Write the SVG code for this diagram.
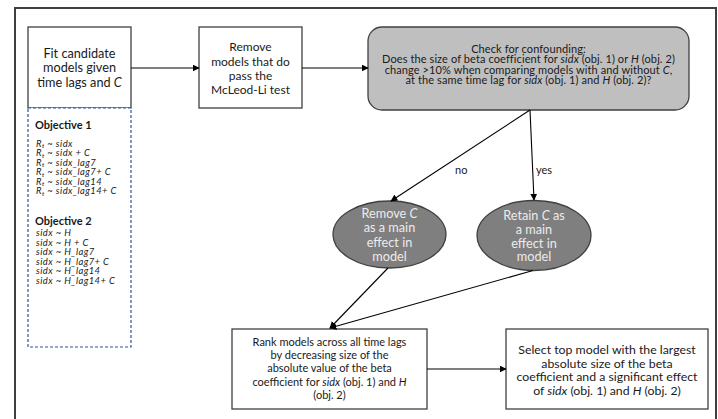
<svg xmlns="http://www.w3.org/2000/svg" width="718" height="419" viewBox="0 0 718 419">
<defs>
<style>
text{font-family:Lato,"Noto Sans","Liberation Sans",sans-serif;fill:#1a1a1a;}
.box{fill:#fff;stroke:#404040;stroke-width:1.3;}
.grey{fill:#bfbfbf;stroke:#404040;stroke-width:1.3;}
.ell{fill:#7f7f7f;stroke:#404040;stroke-width:1.3;}
.t12{font-size:12px;text-anchor:middle;}
.t13{font-size:12.7px;text-anchor:middle;}
.t11{font-size:11px;text-anchor:middle;}
.tsel{font-size:12.3px;text-anchor:middle;}
.tchk{font-size:11px;text-anchor:middle;letter-spacing:0.1px;}
.w{fill:#ececec;font-size:12.7px;text-anchor:middle;}
.lst{font-size:9.4px;font-style:italic;letter-spacing:0.45px;}
.hd{font-size:11px;font-weight:bold;}
.i{font-style:italic;}
.conn{stroke:#000;stroke-width:1.1;fill:none;marker-end:url(#ah);}
.lbl{font-size:11px;}
</style>
<marker id="ah" viewBox="0 0 10 10" refX="9" refY="5" markerWidth="7" markerHeight="7" markerUnits="userSpaceOnUse" orient="auto">
<path d="M0,0 L10,5 L0,10 z" fill="#000"/>
</marker>
</defs>
<rect x="15" y="8" width="701" height="420" fill="#fff" stroke="#404040" stroke-width="2"/>

<g id="fit">
<rect class="box" x="28" y="27" width="103" height="81"/>
<text class="t13" x="79.5" y="57.5">Fit candidate</text>
<text class="t13" x="79.5" y="72">models given</text>
<text class="t13" x="79.5" y="86.5">time lags and <tspan class="i">C</tspan></text>
</g>

<g id="objectives">
<rect x="28" y="108" width="103" height="239" fill="#fff" stroke="#2f5597" stroke-width="1.2" stroke-dasharray="3,2"/>
<text class="hd" x="35" y="129">Objective 1</text>
<text class="lst" x="36" y="146.5">R<tspan font-size="6.5" dy="1.5">t</tspan><tspan dy="-1.5"> ~ sidx</tspan></text>
<text class="lst" x="36" y="156">R<tspan font-size="6.5" dy="1.5">t</tspan><tspan dy="-1.5"> ~ sidx + C</tspan></text>
<text class="lst" x="36" y="165.5">R<tspan font-size="6.5" dy="1.5">t</tspan><tspan dy="-1.5"> ~ sidx_lag7</tspan></text>
<text class="lst" x="36" y="175">R<tspan font-size="6.5" dy="1.5">t</tspan><tspan dy="-1.5"> ~ sidx_lag7+ C</tspan></text>
<text class="lst" x="36" y="184.5">R<tspan font-size="6.5" dy="1.5">t</tspan><tspan dy="-1.5"> ~ sidx_lag14</tspan></text>
<text class="lst" x="36" y="194">R<tspan font-size="6.5" dy="1.5">t</tspan><tspan dy="-1.5"> ~ sidx_lag14+ C</tspan></text>
<text class="hd" x="35" y="225">Objective 2</text>
<text class="lst" x="36" y="236">sidx ~ H</text>
<text class="lst" x="36" y="245.5">sidx ~ H + C</text>
<text class="lst" x="36" y="255">sidx ~ H_lag7</text>
<text class="lst" x="36" y="264.5">sidx ~ H_lag7+ C</text>
<text class="lst" x="36" y="274">sidx ~ H_lag14</text>
<text class="lst" x="36" y="283.5">sidx ~ H_lag14+ C</text>
</g>

<g id="remove">
<rect class="box" x="199" y="27" width="103" height="81"/>
<text class="t12" x="250.5" y="51">Remove</text>
<text class="t12" x="250.5" y="65.5">models that do</text>
<text class="t12" x="250.5" y="80">pass the</text>
<text class="t12" x="250.5" y="94">McLeod-Li test</text>
</g>

<g id="check">
<rect class="grey" x="368" y="27" width="321" height="83" rx="14" ry="14"/>
<text class="tchk" x="528.5" y="52.5">Check for confounding:</text>
<text class="tchk" x="528.5" y="63">Does the size of beta coefficient for <tspan class="i">sidx</tspan> (obj. 1) or <tspan class="i">H</tspan> (obj. 2)</text>
<text class="tchk" x="528.5" y="73.5">change &gt;10% when comparing models with and without <tspan class="i">C</tspan>,</text>
<text class="tchk" x="528.5" y="84">at the same time lag for <tspan class="i">sidx</tspan> (obj. 1) and <tspan class="i">H</tspan> (obj. 2)?</text>
</g>

<g id="removeC">
<ellipse class="ell" cx="389.5" cy="234.5" rx="56.5" ry="33.5"/>
<text class="w" x="389.5" y="217.5">Remove <tspan class="i">C</tspan></text>
<text class="w" x="389.5" y="232">as a main</text>
<text class="w" x="389.5" y="246.5">effect in</text>
<text class="w" x="389.5" y="261">model</text>
</g>

<g id="retainC">
<ellipse class="ell" cx="534" cy="235.5" rx="57" ry="35"/>
<text class="w" x="534" y="219.5">Retain <tspan class="i">C</tspan> as</text>
<text class="w" x="534" y="233.5">a main</text>
<text class="w" x="534" y="247.5">effect in</text>
<text class="w" x="534" y="261">model</text>
</g>

<g id="rank">
<rect class="box" x="232" y="329" width="195" height="80"/>
<text class="t11" x="329.5" y="345.5">Rank models across all time lags</text>
<text class="t11" x="329.5" y="359">by decreasing size of the</text>
<text class="t11" x="329.5" y="372">absolute value of the beta</text>
<text class="t11" x="329.5" y="385.5">coefficient for <tspan class="i">sidx</tspan> (obj. 1) and <tspan class="i">H</tspan></text>
<text class="t11" x="329.5" y="399">(obj. 2)</text>
</g>

<g id="select">
<rect class="box" x="506" y="329" width="202" height="80"/>
<text class="tsel" x="607" y="354">Select top model with the largest</text>
<text class="tsel" x="607" y="367.5">absolute size of the beta</text>
<text class="tsel" x="607" y="381">coefficient and a significant effect</text>
<text class="tsel" x="607" y="394.5">of <tspan class="i">sidx</tspan> (obj. 1) and <tspan class="i">H</tspan> (obj. 2)</text>
</g>

<g id="connectors">
<line class="conn" x1="131" y1="68" x2="199" y2="68"/>
<line class="conn" x1="302" y1="68" x2="368" y2="68"/>
<line class="conn" x1="530" y1="110" x2="391" y2="201"/>
<line class="conn" x1="530" y1="110" x2="534" y2="200"/>
<line class="conn" x1="388" y1="268" x2="330" y2="328"/>
<line class="conn" x1="533" y1="270.5" x2="330" y2="328"/>
<line class="conn" x1="427" y1="369" x2="506" y2="369"/>
<text class="lbl" x="455" y="174">no</text>
<text class="lbl" x="536" y="174">yes</text>
</g>
</svg>
